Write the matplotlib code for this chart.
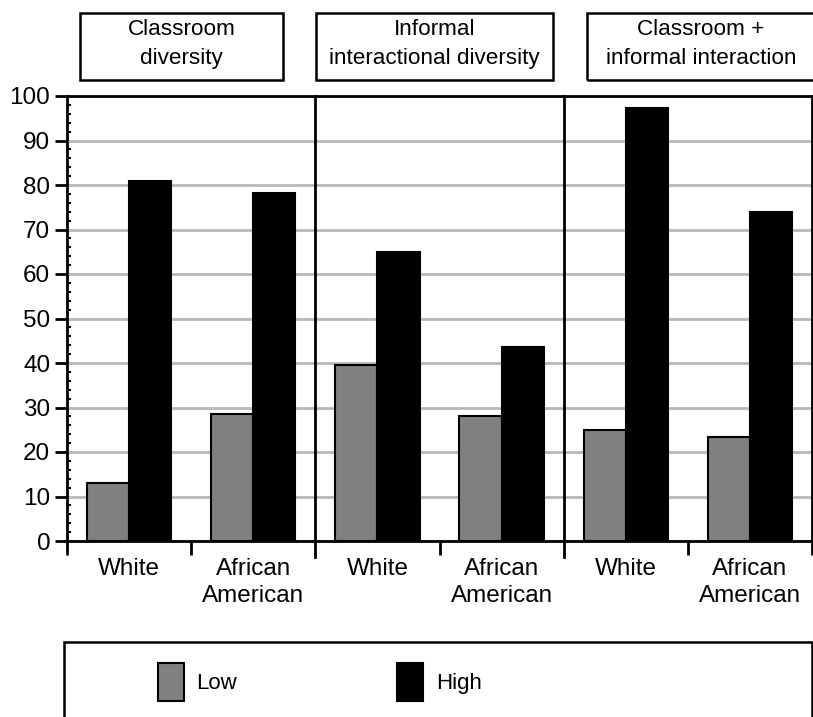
import numpy as np
import matplotlib
matplotlib.use("Agg")
import matplotlib.pyplot as plt
from matplotlib.patches import Rectangle
from matplotlib.ticker import MultipleLocator, FixedLocator

plt.rcParams["font.family"] = ["Liberation Sans", "DejaVu Sans"]

panels = ["Classroom\ndiversity", "Informal\ninteractional diversity", "Classroom +\ninformal interaction"]
groups = ["White", "African\nAmerican"] * 3
low = [13, 28.5, 39.5, 28, 25, 23.3]
high = [81, 78.3, 65, 43.5, 97.3, 74]
GRAY, BLACK = "#808080", "#000000"

W, H = 813, 717
fig = plt.figure(figsize=(W / 100, H / 100), dpi=100)
ax = fig.add_axes([67 / W, 1 - 541 / H, 745 / W, 445 / H])

x = np.arange(len(groups))
bw = 0.34
b_low = ax.bar(x - bw / 2, low, bw, color=GRAY, edgecolor="black", lw=1.5, zorder=3, label="Low")
b_high = ax.bar(x + bw / 2, high, bw, color=BLACK, edgecolor="black", lw=1.5, zorder=3, label="High")

ax.set_xlim(-0.5, len(groups) - 0.5)
ax.set_ylim(0, 100)
ax.yaxis.set_major_locator(MultipleLocator(10))
ax.yaxis.set_minor_locator(MultipleLocator(2))
ax.tick_params(axis="y", which="major", length=9, width=2, direction="out", labelsize=17.5, pad=3)
ax.tick_params(axis="y", which="minor", length=3, width=1.5, direction="in")
ax.grid(axis="y", color="#b8b8b8", lw=2, zorder=1)

ax.set_xticks(x)
ax.set_xticklabels(groups, fontsize=17.5, linespacing=1.3)
ax.tick_params(axis="x", which="major", length=0, pad=12)
ax.xaxis.set_minor_locator(FixedLocator([-0.5, 0.5, 2.5, 4.5, 5.5]))
ax.tick_params(axis="x", which="minor", length=10, width=2, direction="out")

for s in ax.spines.values():
    s.set_linewidth(2)

# panel separators, reaching below the axis
for sep in [1.5, 3.5]:
    ax.axvline(sep, ymin=-0.035, ymax=1, color="black", lw=2, clip_on=False, zorder=4)

# panel title boxes
boxes = [(80, 283), (316, 553), (587, 815)]
for (x0, x1), t in zip(boxes, panels):
    fig.patches.append(Rectangle((x0 / W, 1 - 80 / H), (x1 - x0) / W, 67 / H,
                                 transform=fig.transFigure, fill=False, ec="black", lw=1.8))
    fig.text((x0 + x1) / 2 / W, 1 - 44 / H, t, ha="center", va="center",
             fontsize=16.2, linespacing=1.55)

# legend box (cut off at the bottom)
fig.patches.append(Rectangle((64 / W, -0.05), 748 / W, 1 - 642 / H + 0.05,
                             transform=fig.transFigure, fill=False, ec="black", lw=1.8))
fig.legend(handles=[b_low, b_high], labels=["Low", "High"], ncol=2, frameon=False,
           loc="center left", bbox_to_anchor=(138 / W, 1 - 682 / H), fontsize=16,
           handlelength=1.18, handleheight=2.2, columnspacing=7.2, handletextpad=0.55)

fig.savefig("out.png", dpi=100)
